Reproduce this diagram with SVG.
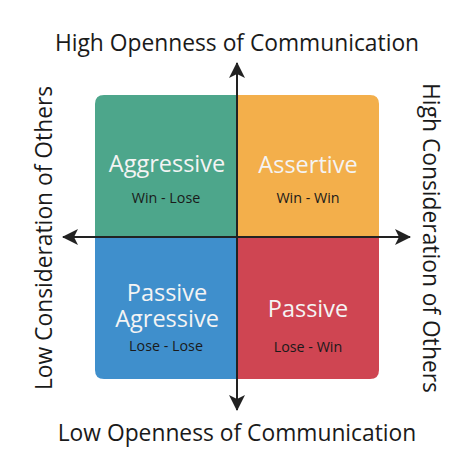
<svg xmlns="http://www.w3.org/2000/svg" width="474" height="474" viewBox="0 0 474 474">
<style>
.axis{font-family:"Open Sans","Noto Sans",sans-serif;font-size:22.8px;fill:#1a1a1a;text-anchor:middle}
.title{font-family:"Open Sans","Noto Sans",sans-serif;font-size:23.5px;fill:#f4f4f4;text-anchor:middle}
.sub{font-family:"Open Sans","Noto Sans",sans-serif;font-size:14.3px;fill:#1a1a1a;text-anchor:middle}
.ax{stroke:#222;stroke-width:2;fill:none}
</style>
<defs>
<marker id="arr" viewBox="0 0 16 16" refX="15" refY="8" markerWidth="16" markerHeight="16" markerUnits="userSpaceOnUse" orient="auto">
<path d="M0,0 L16,8 L0,16 L4,8 Z" fill="#222"/>
</marker>
</defs>
<rect width="474" height="474" fill="#fff"/>
<g id="aggressive">
<path d="M95,237 V104 Q95,95 104,95 H237 V237 Z" fill="#4da68b"/>
<text class="title" x="167" y="172">Aggressive</text>
<text class="sub" x="166" y="203">Win - Lose</text>
</g>
<g id="assertive">
<path d="M237,95 H370 Q379,95 379,104 V237 H237 Z" fill="#f3af4b"/>
<text class="title" x="308" y="173">Assertive</text>
<text class="sub" x="308" y="203">Win - Win</text>
</g>
<g id="passive-agressive">
<path d="M95,237 V370 Q95,379 104,379 H237 V237 Z" fill="#3f8fcc"/>
<text class="title" x="167" y="301">Passive</text>
<text class="title" x="167" y="327">Agressive</text>
<text class="sub" x="166" y="351">Lose - Lose</text>
</g>
<g id="passive">
<path d="M237,237 H379 V370 Q379,379 370,379 H237 Z" fill="#cf4552"/>
<text class="title" x="308" y="317">Passive</text>
<text class="sub" x="308" y="352">Lose - Win</text>
</g>
<g id="connectors">
<line class="ax" x1="237" y1="237" x2="237" y2="63" marker-end="url(#arr)"/>
<line class="ax" x1="237" y1="237" x2="237" y2="410" marker-end="url(#arr)"/>
<line class="ax" x1="237" y1="237" x2="63" y2="237" marker-end="url(#arr)"/>
<line class="ax" x1="237" y1="237" x2="410" y2="237" marker-end="url(#arr)"/>
</g>
<g id="labels">
<text class="axis" x="237" y="51">High Openness of Communication</text>
<text class="axis" x="237" y="441">Low Openness of Communication</text>
<text class="axis" transform="translate(52,238) rotate(-90)">Low Consideration of Others</text>
<text class="axis" transform="translate(423,238) rotate(90)">High Consideration of Others</text>
</g>
</svg>
